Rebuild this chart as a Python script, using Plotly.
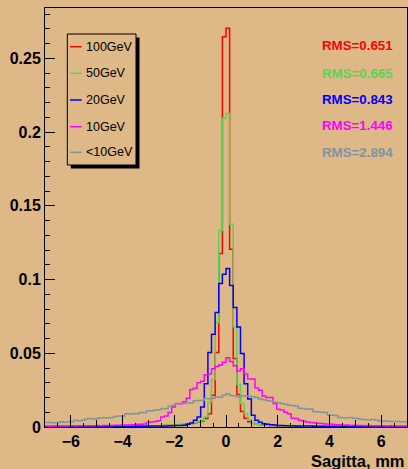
import numpy as np
import plotly.graph_objects as go

# ---------------- data ----------------
labels = ["100GeV", "50GeV", "20GeV", "10GeV", "<10GeV"]
rms_text = ["RMS=0.651", "RMS=0.665", "RMS=0.843", "RMS=1.446", "RMS=2.894"]
colors = ["#FF0000", "#59D454", "#0000FF", "#FF00FF", "#8094A0"]

x_min, x_max, n_bins = -7.0, 7.0, 100

h100 = [0.0002, 0.0003, 0.0002, 0.0003, 0.0003, 0.0002, 0.0003, 0.0004, 0.0003, 0.0003,
        0.0004, 0.0003, 0.0004, 0.0004, 0.0005, 0.0004, 0.0004, 0.0005, 0.0005, 0.0004,
        0.0005, 0.0006, 0.0005, 0.0006, 0.0006, 0.0007, 0.0006, 0.0007, 0.0008, 0.0007,
        0.0008, 0.0009, 0.0009, 0.0010, 0.0011, 0.0012, 0.0014, 0.0016, 0.0018, 0.0021,
        0.0024, 0.0028, 0.0033, 0.0040, 0.0057, 0.0090, 0.0215, 0.0505, 0.1177, 0.2647,
        0.2704, 0.1206, 0.0464, 0.0220, 0.0105, 0.0060, 0.0035, 0.0024, 0.0019, 0.0016,
        0.0013, 0.0012, 0.0011, 0.0010, 0.0009, 0.0009, 0.0008, 0.0007, 0.0007, 0.0006,
        0.0006, 0.0006, 0.0005, 0.0005, 0.0005, 0.0004, 0.0004, 0.0005, 0.0004, 0.0004,
        0.0003, 0.0004, 0.0003, 0.0003, 0.0003, 0.0002, 0.0003, 0.0003, 0.0002, 0.0003,
        0.0002, 0.0002, 0.0003, 0.0002, 0.0002, 0.0002, 0.0002, 0.0001, 0.0002, 0.0002]

h50 = [0.0002, 0.0002, 0.0003, 0.0002, 0.0003, 0.0003, 0.0003, 0.0002, 0.0003, 0.0004,
       0.0003, 0.0004, 0.0003, 0.0004, 0.0004, 0.0005, 0.0004, 0.0005, 0.0004, 0.0005,
       0.0005, 0.0006, 0.0005, 0.0006, 0.0006, 0.0006, 0.0007, 0.0007, 0.0008, 0.0008,
       0.0009, 0.0009, 0.0010, 0.0011, 0.0012, 0.0013, 0.0015, 0.0017, 0.0020, 0.0023,
       0.0026, 0.0030, 0.0036, 0.0045, 0.0070, 0.0170, 0.0322, 0.0708, 0.1334, 0.2093,
       0.2127, 0.1375, 0.0680, 0.0290, 0.0160, 0.0090, 0.0045, 0.0025, 0.0019, 0.0016,
       0.0014, 0.0012, 0.0011, 0.0010, 0.0010, 0.0009, 0.0008, 0.0008, 0.0007, 0.0007,
       0.0006, 0.0006, 0.0006, 0.0005, 0.0005, 0.0005, 0.0004, 0.0004, 0.0004, 0.0004,
       0.0004, 0.0003, 0.0003, 0.0003, 0.0003, 0.0003, 0.0002, 0.0003, 0.0002, 0.0002,
       0.0003, 0.0002, 0.0002, 0.0002, 0.0002, 0.0001, 0.0002, 0.0002, 0.0001, 0.0002]

h20 = [0.0002, 0.0002, 0.0002, 0.0002, 0.0002, 0.0003, 0.0002, 0.0003, 0.0003, 0.0003,
       0.0003, 0.0003, 0.0003, 0.0004, 0.0003, 0.0004, 0.0004, 0.0004, 0.0004, 0.0004,
       0.0004, 0.0004, 0.0004, 0.0005, 0.0004, 0.0005, 0.0005, 0.0005, 0.0006, 0.0006,
       0.0006, 0.0006, 0.0007, 0.0007, 0.0008, 0.0009, 0.0010, 0.0011, 0.0012, 0.0018,
       0.0027, 0.0045, 0.0068, 0.0136, 0.0294, 0.0505, 0.0629, 0.0776, 0.0973, 0.1036,
       0.1075, 0.0960, 0.0810, 0.0679, 0.0498, 0.0294, 0.0190, 0.0080, 0.0045, 0.0032,
       0.0022, 0.0018, 0.0016, 0.0013, 0.0011, 0.0010, 0.0009, 0.0008, 0.0008, 0.0007,
       0.0007, 0.0006, 0.0006, 0.0006, 0.0005, 0.0005, 0.0005, 0.0004, 0.0004, 0.0004,
       0.0004, 0.0003, 0.0004, 0.0003, 0.0003, 0.0003, 0.0003, 0.0002, 0.0003, 0.0002,
       0.0002, 0.0002, 0.0002, 0.0002, 0.0002, 0.0002, 0.0001, 0.0002, 0.0002, 0.0001]

h10 = [0.0006, 0.0005, 0.0006, 0.0007, 0.0006, 0.0007, 0.0007, 0.0008, 0.0007, 0.0008,
       0.0008, 0.0009, 0.0008, 0.0009, 0.0010, 0.0009, 0.0010, 0.0011, 0.0010, 0.0012,
       0.0012, 0.0013, 0.0014, 0.0013, 0.0016, 0.0018, 0.0019, 0.0020, 0.0030, 0.0034,
       0.0038, 0.0042, 0.0068, 0.0075, 0.0098, 0.0136, 0.0158, 0.0160, 0.0172, 0.0195,
       0.0255, 0.0262, 0.0300, 0.0310, 0.0355, 0.0360, 0.0395, 0.0410, 0.0420, 0.0440,
       0.0470, 0.0445, 0.0415, 0.0380, 0.0395, 0.0360, 0.0325, 0.0325, 0.0265, 0.0250,
       0.0210, 0.0200, 0.0200, 0.0160, 0.0120, 0.0115, 0.0100, 0.0090, 0.0060, 0.0057,
       0.0046, 0.0040, 0.0034, 0.0030, 0.0028, 0.0025, 0.0023, 0.0021, 0.0020, 0.0018,
       0.0016, 0.0015, 0.0012, 0.0013, 0.0011, 0.0012, 0.0010, 0.0011, 0.0009, 0.0010,
       0.0009, 0.0008, 0.0009, 0.0008, 0.0007, 0.0008, 0.0007, 0.0006, 0.0007, 0.0006]

hlow = [0.0030, 0.0030, 0.0028, 0.0030, 0.0035, 0.0033, 0.0036, 0.0035, 0.0045, 0.0043,
        0.0046, 0.0055, 0.0057, 0.0054, 0.0058, 0.0062, 0.0063, 0.0061, 0.0065, 0.0072,
        0.0074, 0.0073, 0.0090, 0.0088, 0.0091, 0.0090, 0.0098, 0.0097, 0.0108, 0.0110,
        0.0115, 0.0117, 0.0125, 0.0124, 0.0140, 0.0145, 0.0159, 0.0158, 0.0160, 0.0165,
        0.0163, 0.0178, 0.0180, 0.0182, 0.0193, 0.0192, 0.0195, 0.0204, 0.0202, 0.0215,
        0.0226, 0.0213, 0.0210, 0.0205, 0.0212, 0.0210, 0.0208, 0.0205, 0.0200, 0.0190,
        0.0185, 0.0180, 0.0175, 0.0170, 0.0165, 0.0160, 0.0155, 0.0148, 0.0145, 0.0140,
        0.0128, 0.0125, 0.0120, 0.0122, 0.0105, 0.0102, 0.0100, 0.0098, 0.0082, 0.0080,
        0.0078, 0.0065, 0.0063, 0.0062, 0.0065, 0.0060, 0.0058, 0.0052, 0.0050, 0.0049,
        0.0051, 0.0048, 0.0040, 0.0039, 0.0040, 0.0038, 0.0037, 0.0038, 0.0036, 0.0035]

series = [h100, h50, h20, h10, hlow]

# ---------------- layout geometry ----------------
W, H = 408, 469
L, R, T, B = 45, 1, 8, 42
PW, PH = W - L - R, H - T - B
BG = "#DEB887"
FONT = "Liberation Sans, Arial, Helvetica, sans-serif"


def px(x):
    return (x - L) / PW


def py(y):
    return (H - B - y) / PH


edges = np.linspace(x_min, x_max, n_bins + 1)

fig = go.Figure()
for vals, col, lab in zip(series, colors, labels):
    fig.add_trace(go.Scatter(
        x=edges, y=list(vals) + [vals[-1]],
        mode="lines", line=dict(color=col, width=1.5, shape="hv"),
        name=lab, showlegend=False, hoverinfo="skip"))

# dummy trace to activate the secondary tick axis
fig.add_trace(go.Scatter(x=[0], y=[0], xaxis="x2", mode="markers",
                         marker=dict(opacity=0), showlegend=False, hoverinfo="skip"))

shapes = []
annotations = []

# legend box with shadow
bx0, bx1, by0, by1 = 67.3, 136.0, 34.0, 165.0
shapes.append(dict(type="rect", xref="paper", yref="paper",
                   x0=px(bx0 + 3.5), x1=px(bx1 + 3.5), y0=py(by0 + 3.5), y1=py(by1 + 3.5),
                   fillcolor="black", line=dict(width=0), layer="above"))
shapes.append(dict(type="rect", xref="paper", yref="paper",
                   x0=px(bx0), x1=px(bx1), y0=py(by0), y1=py(by1),
                   fillcolor=BG, line=dict(color="black", width=1), layer="above"))

entry_y = [46.7, 73.3, 100.0, 126.7, 152.3]
rms_y = [45.7, 73.0, 99.3, 126.0, 152.0]
for lab, col, ey, rt, ry in zip(labels, colors, entry_y, rms_text, rms_y):
    shapes.append(dict(type="line", xref="paper", yref="paper",
                       x0=px(70.0), x1=px(81.7), y0=py(ey), y1=py(ey),
                       line=dict(color=col, width=1.5), layer="above"))
    annotations.append(dict(text=lab, xref="paper", yref="paper", x=px(84.0), y=py(ey),
                            xanchor="left", yanchor="middle", showarrow=False,
                            font=dict(family=FONT, size=12.5, color="black")))
    annotations.append(dict(text=rt, xref="paper", yref="paper", x=px(320.0), y=py(ry),
                            xanchor="left", yanchor="middle", showarrow=False,
                            font=dict(family=FONT, size=13.3, color=col, weight="bold")))

annotations.append(dict(text="Sagitta, mm", xref="paper", yref="paper",
                        x=px(407.0), y=py(460.5), xanchor="right", yanchor="middle",
                        showarrow=False,
                        font=dict(family=FONT, size=16.5, color="black", weight="bold")))

fig.update_layout(
    width=W, height=H,
    margin=dict(l=L, r=R, t=T, b=B, pad=0),
    paper_bgcolor=BG, plot_bgcolor=BG,
    showlegend=False,
    shapes=shapes, annotations=annotations,
    xaxis=dict(range=[x_min, x_max], tick0=0, dtick=2, ticks="inside", ticklen=12,
               tickwidth=1, tickcolor="black", showline=True, mirror=True,
               linecolor="black", linewidth=1, showgrid=False, zeroline=False,
               tickfont=dict(family=FONT, size=16, color="black", weight="bold"),
               minor=dict(tick0=0, dtick=0.5, ticks="inside", ticklen=4,
                          tickcolor="black", tickwidth=1, showgrid=False)),
    xaxis2=dict(range=[x_min, x_max], overlaying="x", anchor="y", side="bottom",
                tick0=0, dtick=1, ticks="inside", ticklen=7, tickwidth=1,
                tickcolor="black", showticklabels=False, showline=False,
                showgrid=False, zeroline=False),
    yaxis=dict(range=[0, 0.2842], tick0=0, dtick=0.05, ticks="inside", ticklen=10,
               tickwidth=1, tickcolor="black", showline=True, mirror=True,
               linecolor="black", linewidth=1, showgrid=False, zeroline=False,
               tickfont=dict(family=FONT, size=16, color="black", weight="bold"),
               minor=dict(tick0=0, dtick=0.01, ticks="inside", ticklen=5,
                          tickcolor="black", tickwidth=1, showgrid=False)),
)

fig.write_html("out.html", config={"displayModeBar": False})

# remove the default page margin so the figure sits at the window origin
with open("out.html", "r", encoding="utf-8") as f:
    html = f.read()
html = html.replace("<head>", "<head><style>html,body{margin:0;padding:0;overflow:hidden;}</style>", 1)
with open("out.html", "w", encoding="utf-8") as f:
    f.write(html)
